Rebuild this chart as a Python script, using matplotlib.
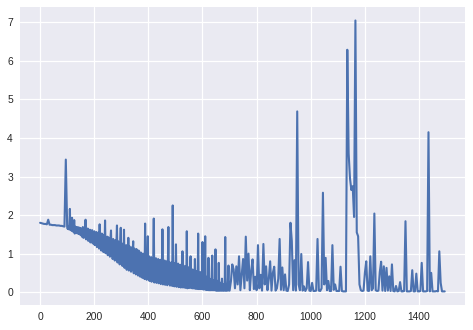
import numpy as np
import matplotlib.pyplot as plt

plt.style.use("seaborn-v0_8")
plt.rcParams["font.family"] = ["Liberation Sans", "DejaVu Sans"]

# loss
# steps 0-95, every 5 steps
loss_start = [1.80, 1.79, 1.78, 1.77, 1.77, 1.76, 1.88, 1.75, 1.75, 1.74,
              1.74, 1.74, 1.73, 1.73, 1.73, 1.72, 1.72, 1.71, 1.70, 3.44]

# steps 100-698, every 2 steps (the noisy band)
band_100 = [1.70, 1.64, 1.71, 1.63, 1.70, 2.16, 1.61, 1.70, 1.60, 1.93,
            1.58, 1.69, 1.56, 1.87, 1.52, 1.70, 1.55, 1.69, 1.53, 1.68,
            1.52, 1.68, 1.51, 1.67, 1.49]
band_150 = [1.66, 1.47, 1.64, 1.43, 1.69, 1.41, 1.62, 1.42, 1.66, 1.88,
            1.37, 1.60, 1.39, 1.65, 1.33, 1.58, 1.36, 1.62, 1.29, 1.55,
            1.32, 1.61, 1.27, 1.52, 1.25]
band_200 = [1.58, 1.22, 1.50, 1.24, 1.56, 1.17, 1.48, 1.19, 1.55, 1.13,
            1.76, 1.15, 1.46, 1.08, 1.52, 1.11, 1.42, 1.04, 1.49, 1.07,
            1.86, 1.01, 1.38, 1.05, 1.44]
band_250 = [0.96, 1.42, 1.00, 1.33, 0.92, 1.40, 1.60, 0.94, 1.30, 0.86,
            1.38, 0.90, 1.27, 0.82, 1.35, 0.85, 1.25, 1.73, 0.77, 1.32,
            0.80, 1.20, 0.72, 1.28, 1.67]
band_300 = [0.75, 1.18, 0.68, 1.26, 0.71, 1.62, 0.63, 1.14, 0.67, 1.22,
            0.58, 1.12, 0.64, 1.41, 0.56, 1.19, 0.60, 1.08, 0.53, 1.16,
            0.57, 1.05, 1.32, 0.49, 1.13]
band_350 = [0.53, 1.04, 0.46, 1.12, 0.50, 1.00, 0.43, 1.08, 0.47, 0.97,
            0.40, 1.03, 0.44, 0.93, 0.37, 1.00, 0.41, 0.90, 0.34, 1.78,
            0.38, 0.96, 0.32, 0.87, 1.45]
band_400 = [0.34, 0.93, 0.29, 0.85, 0.32, 0.91, 0.27, 0.84, 0.30, 0.89,
            1.91, 0.25, 0.82, 0.29, 0.88, 0.24, 0.80, 0.27, 0.86, 0.23,
            0.79, 0.26, 0.84, 0.21, 0.78]
band_450 = [0.24, 1.63, 0.20, 0.76, 0.23, 0.82, 0.19, 0.74, 0.22, 0.80,
            0.18, 0.73, 1.69, 0.21, 0.78, 0.17, 0.71, 0.19, 0.77, 0.16,
            2.25, 0.18, 0.70, 0.15, 0.75]
band_500 = [0.17, 1.24, 0.14, 0.68, 0.16, 0.74, 0.13, 0.66, 0.15, 0.71,
            0.12, 0.64, 0.15, 1.06, 0.12, 0.69, 0.14, 0.62, 0.11, 0.67,
            0.13, 1.58, 0.10, 0.65, 0.12]
band_550 = [0.62, 0.11, 0.55, 0.93, 0.11, 0.60, 0.10, 0.45, 0.10, 0.58,
            0.10, 0.86, 0.09, 0.40, 0.09, 0.55, 0.09, 1.52, 0.08, 0.35,
            0.08, 0.52, 0.08, 0.30, 0.08]
band_600 = [1.30, 0.07, 0.45, 0.07, 0.25, 1.45, 0.06, 0.40, 0.06, 0.20,
            0.06, 0.89, 0.05, 0.35, 0.05, 0.15, 0.05, 0.45, 0.95, 0.05,
            0.30, 0.05, 0.10, 0.05, 1.11]
band_650 = [0.04, 0.30, 0.04, 0.12, 0.04, 0.76, 0.04, 0.25, 0.04, 0.08,
            0.04, 0.35, 0.04, 0.04, 0.20, 0.04, 0.04, 1.43, 0.04, 0.15,
            0.04, 0.04, 0.30, 0.69, 0.04]

# steps 700-1495, every 5 steps
loss_700 = [0.04, 0.28, 0.72, 0.59, 0.10, 0.67, 0.20, 0.93, 0.05, 0.45,
            0.86, 0.10, 1.44, 0.30, 1.00, 0.05, 0.55, 0.85, 0.08, 0.40]
loss_800 = [0.05, 1.22, 0.10, 0.45, 0.04, 1.25, 0.20, 0.67, 0.05, 0.35,
            0.80, 0.04, 0.50, 0.66, 0.04, 0.10, 0.35, 1.38, 0.06, 0.64]
loss_900 = [0.05, 0.46, 0.04, 0.03, 0.20, 1.80, 1.33, 0.05, 0.83, 0.04,
            4.69, 0.20, 0.05, 0.99, 0.04, 0.15, 0.03, 0.10, 0.78, 0.04]
loss_1000 = [0.03, 0.24, 0.03, 0.03, 0.04, 1.38, 0.04, 0.03, 0.10, 2.58,
             0.20, 0.89, 0.05, 0.29, 0.03, 0.03, 1.22, 0.06, 0.20, 0.03]
loss_1100 = [0.03, 0.03, 0.66, 0.03, 0.02, 0.02, 0.02, 6.29, 3.60, 2.95,
             2.65, 2.75, 1.95, 7.05, 1.55, 1.45, 0.20, 0.05, 0.03, 0.04]
loss_1200 = [0.50, 0.80, 0.04, 0.03, 0.93, 0.05, 0.10, 2.04, 0.05, 0.03,
             0.04, 0.52, 0.79, 0.04, 0.67, 0.03, 0.63, 0.04, 0.41, 0.03]
loss_1300 = [0.72, 0.03, 0.02, 0.16, 0.02, 0.03, 0.26, 0.02, 0.02, 0.03,
             1.84, 0.02, 0.02, 0.02, 0.03, 0.57, 0.02, 0.02, 0.48, 0.02]
loss_1400 = [0.02, 0.03, 0.76, 0.02, 0.02, 0.02, 0.03, 4.15, 0.02, 0.50,
             0.02, 0.02, 0.02, 0.03, 0.02, 1.06, 0.24, 0.02, 0.02, 0.02]

band = (band_100 + band_150 + band_200 + band_250 + band_300 + band_350
        + band_400 + band_450 + band_500 + band_550 + band_600 + band_650)
loss_end = (loss_700 + loss_800 + loss_900 + loss_1000 + loss_1100
            + loss_1200 + loss_1300 + loss_1400)

steps = np.concatenate([np.arange(0, 100, 5),
                        np.arange(100, 700, 2),
                        np.arange(700, 1500, 5)])
loss = loss_start + band + loss_end

fig, ax = plt.subplots(figsize=(4.73, 3.30), dpi=100)
fig.subplots_adjust(left=0.042, right=0.983, bottom=0.076, top=0.979)

ax.plot(steps, loss, color="#4C72B0", linewidth=1.5)

ax.set_xticks([0, 200, 400, 600, 800, 1000, 1200, 1400])
ax.set_yticks([0, 1, 2, 3, 4, 5, 6, 7])
ax.tick_params(axis="both", labelsize=7.4, pad=5, colors="#262626")
ax.grid(color="white", linewidth=0.9)

fig.savefig("out.png", dpi=100)
